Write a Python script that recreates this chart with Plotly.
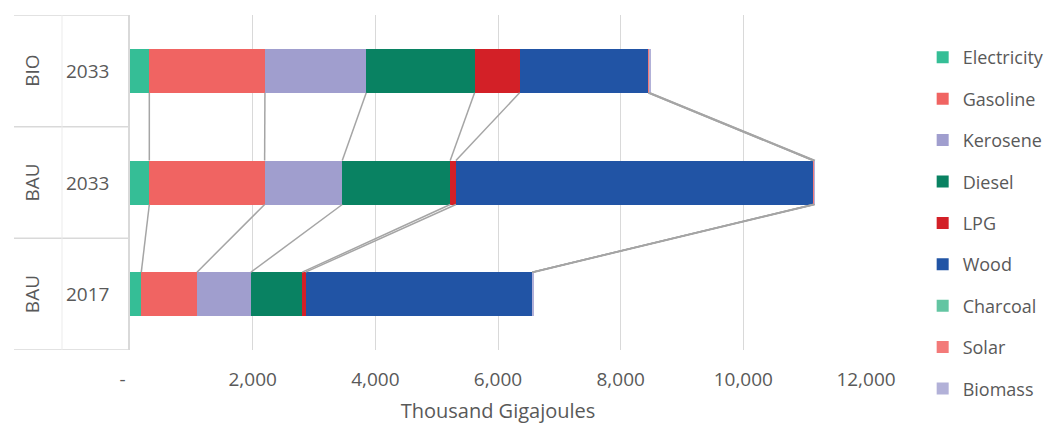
import plotly.graph_objects as go

# Rows of the chart, bottom to top
scenarios = ["BAU", "BAU", "BIO"]
years = ["2017", "2033", "2033"]

fuels = ["Electricity", "Gasoline", "Kerosene", "Diesel", "LPG",
         "Wood", "Charcoal", "Solar", "Biomass"]

# Consumption by fuel, thousand GJ (rows: BAU 2017, BAU 2033, BIO 2033)
electricity = [184, 315, 315]
gasoline = [908, 1880, 1885]
kerosene = [880, 1266, 1652]
diesel = [837, 1760, 1766]
lpg = [54, 93, 734]
wood = [3695, 5824, 2097]
charcoal = [0, 0, 0]
solar = [0, 15, 25]
biomass = [25, 15, 8]

series = [electricity, gasoline, kerosene, diesel, lpg, wood, charcoal, solar, biomass]
colors = ["#35BE96", "#F06462", "#A09ECE", "#098262", "#D32027",
          "#2154A5", "#63C5A2", "#F37A79", "#B2B1D8"]

tick_values = [0, 2000, 4000, 6000, 8000, 10000, 12000]
tick_labels = ["-   ", "2,000", "4,000", "6,000", "8,000", "10,000", "12,000"]

FONT = "Open Sans"
TXT = "#595959"
GRID = "#D9D9D9"
BAR_W = 0.394
rows = list(range(len(years)))

fig = go.Figure()

for name, vals, col in zip(fuels, series, colors):
    fig.add_trace(go.Bar(
        y=rows, x=vals, orientation="h", name=name, width=BAR_W,
        marker=dict(color=col, line=dict(width=0)),
        legendgroup=name, hoverinfo="x+name",
    ))

# Series lines joining the running totals of neighbouring bars
cum = []
run = [0] * len(rows)
for vals in series:
    run = [a + b for a, b in zip(run, vals)]
    cum.append(run[:])

lx, ly = [], []
for c in cum:
    for i in range(len(rows) - 1):
        lx += [c[i], c[i + 1], None]
        ly += [rows[i] + BAR_W / 2, rows[i + 1] - BAR_W / 2, None]
fig.add_trace(go.Scatter(
    x=lx, y=ly, mode="lines", showlegend=False, hoverinfo="skip",
    line=dict(color="#A5A5A5", width=1.5),
))

# Two-level category labels on the left
shapes = []
x_left, x_mid = -0.1576, -0.0924
for b in [-0.5, 0.5, 1.5, 2.5]:
    shapes.append(dict(type="line", xref="paper", yref="y", x0=x_left, x1=0,
                       y0=b, y1=b, line=dict(color=GRID, width=1.5)))
shapes.append(dict(type="line", xref="paper", yref="y", x0=x_mid, x1=x_mid,
                   y0=-0.5, y1=2.5, line=dict(color="#EBEBEB", width=1)))

annotations = []
for r, s, yv in zip(rows, scenarios, years):
    annotations.append(dict(xref="paper", yref="y", x=-0.1332, y=r,
                            xanchor="center", yanchor="middle",
                            text=s, showarrow=False, textangle=-90,
                            font=dict(family=FONT, size=19, color=TXT)))
    annotations.append(dict(xref="paper", yref="y", x=-0.0584, y=r,
                            xanchor="center", yanchor="middle",
                            text=yv, showarrow=False,
                            font=dict(family=FONT, size=19, color=TXT)))

fig.update_layout(
    width=1047, height=424,
    margin=dict(l=130, r=181, t=15, b=74, autoexpand=False),
    paper_bgcolor="white", plot_bgcolor="white",
    barmode="stack", bargap=0,
    font=dict(family=FONT, color=TXT),
    shapes=shapes, annotations=annotations,
    legend=dict(
        x=1.077, xanchor="left", y=0.928, yanchor="top",
        traceorder="grouped", tracegroupgap=15, maxheight=410,
        font=dict(family=FONT, size=18, color=TXT),
        itemclick=False, itemdoubleclick=False,
    ),
    xaxis=dict(
        range=[0, 12000], tickvals=tick_values, ticktext=tick_labels,
        showgrid=True, gridcolor=GRID, gridwidth=1.3, zeroline=False,
        showline=False, ticks="", ticklabelstandoff=16, automargin=False,
        tickfont=dict(family=FONT, size=19, color=TXT),
        title=dict(text="Thousand Gigajoules", standoff=16,
                   font=dict(family=FONT, size=20, color=TXT)),
        fixedrange=True,
    ),
    yaxis=dict(
        range=[-0.5, 2.5], showticklabels=False, showgrid=False,
        zeroline=False, showline=True, linecolor=GRID, linewidth=1.5,
        fixedrange=True, automargin=False,
    ),
)

fig.write_html("out.html")
